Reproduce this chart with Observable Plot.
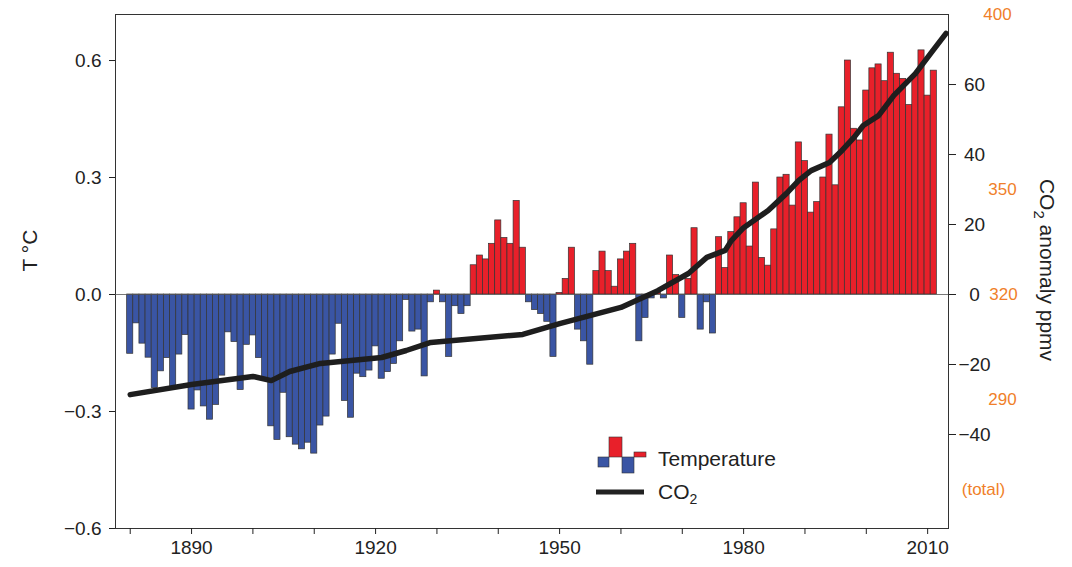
<!DOCTYPE html>
<html><head><meta charset="utf-8">
<script src="https://cdn.jsdelivr.net/npm/d3@7"></script>
<script src="https://cdn.jsdelivr.net/npm/@observablehq/plot@0.6"></script>
<style>
body{margin:0;background:#fff;font-family:"Liberation Sans",Arial,sans-serif;}
#wrap{position:relative;width:1072px;height:567px;}
#legend{position:absolute;left:596px;top:436px;color:#222;}
</style></head><body>
<div id="wrap"><div id="chart"></div>
<div id="legend">
<svg width="230" height="70" style="position:absolute;left:0;top:0">
<rect x="13" y="1" width="13" height="20" fill="#e8202a" stroke="#333" stroke-width="0.6"/>
<rect x="38" y="16" width="12" height="5" fill="#e8202a" stroke="#333" stroke-width="0.6"/>
<rect x="2" y="21" width="11" height="10" fill="#3a55a4" stroke="#333" stroke-width="0.6"/>
<rect x="26" y="21" width="12" height="16" fill="#3a55a4" stroke="#333" stroke-width="0.6"/>
<line x1="-2" y1="56" x2="48" y2="56" stroke="#222" stroke-width="5"/>
<text x="62" y="30" font-size="21" fill="#222">Temperature</text>
<text x="62" y="63" font-size="21" fill="#222">CO<tspan font-size="14" dy="5">2</tspan></text>
</svg></div></div>
<script>
const startYear = 1880;
const temps = [
-0.152,-0.074,-0.126,-0.162,-0.24,-0.197,-0.163,-0.237,-0.154,-0.104,
-0.295,-0.246,-0.287,-0.321,-0.283,-0.208,-0.097,-0.122,-0.245,-0.129,
-0.105,-0.163,-0.22,-0.338,-0.373,-0.252,-0.366,-0.385,-0.397,-0.38,
-0.408,-0.336,-0.313,-0.154,-0.075,-0.273,-0.316,-0.203,-0.212,-0.195,
-0.133,-0.216,-0.199,-0.178,-0.12,-0.014,-0.095,
-0.09,-0.21,-0.02,0.01,-0.02,-0.16,-0.03,-0.05,-0.03,0.075,0.10,0.09,0.13,0.19,0.145,0.13,0.24,0.12,
-0.02,-0.04,-0.05,-0.07,-0.16,0.004,0.04,0.12,-0.09,-0.12,-0.18,0.06,0.11,0.06,0.02,0.09,0.11,0.13,
-0.12,-0.06,-0.01,0.005,-0.01,0.10,0.05,-0.06,0.04,0.17,-0.09,-0.02,-0.10,
0.147,0.068,0.16,0.198,0.234,0.123,0.287,0.094,0.074,0.167,0.30,0.307,0.228,0.39,0.342,0.21,0.237,0.30,0.41,0.28,
0.48,0.60,0.425,0.395,0.523,0.58,0.59,0.547,0.62,0.566,0.553,0.486,0.56,0.626,0.51,0.574];
const co2Years = [1880,1890,1900,1903,1906,1911,1921,1925,1929,1944,1950,1960,1966,1971,1974,1977,1978,1980,1984,1987,1989,1991,1994,1996,1998,1999.5,2002,2004.5,2008,2010.5,2013];
const co2Ppm   = [291.4,294.3,296.6,295.4,298,300.3,302,304,306.3,308.6,311.7,316.3,321.1,326,330.6,332.6,335.4,339.1,344,348.9,352.6,355.4,357.7,361.1,364.9,368.3,371.1,376.9,383.1,388.9,394.6];
const leftTicks = [-0.6,-0.3,0,0.3,0.6];
const rightTicks = [-40,-20,0,20,40,60];
const totalLabels = ["400","350","320","290","(total)"];
const totalAnoms = [80,30,0,-30,-55.7];
const totalDx = [49,54,55,54,35];
const ratio = 111.43; // ppmv anomaly per °C on shared axis
const ref = 320;

const bars = temps.map((v,i)=>({year:startYear+i, v}));
const co2 = co2Years.map((y,i)=>({year:y, v:(co2Ppm[i]-ref)/ratio}));
const xMin = 1877.6, xMax = 2013.4;
const orange = "#f07f2a";
const chart = Plot.plot({
  width:1072, height:567,
  marginLeft:115, marginRight:124, marginTop:14, marginBottom:39,
  style:{fontFamily:"Liberation Sans, Arial, sans-serif", fontSize:"19px", color:"#222"},
  x:{domain:[xMin,xMax]},
  y:{domain:[-0.6,0.718]},
  marks:[
    Plot.frame({stroke:"#333"}),
    Plot.rectY(bars,{x1:d=>d.year-0.5,x2:d=>d.year+0.5,y1:0,y2:"v",fill:d=>d.v>=0?"#e8202a":"#3a55a4",stroke:"#333",strokeWidth:0.7,inset:0}),
    Plot.ruleY([0],{stroke:"#555",strokeWidth:0.8}),
    Plot.lineY(co2,{x:"year",y:"v",stroke:"#1e1e1e",strokeWidth:5.5,curve:"linear"}),
    Plot.axisY({anchor:"left",ticks:leftTicks,tickSize:6,tickPadding:8,tickFormat:d=>d.toFixed(1).replace("-","\u2212"),label:null,fontSize:19}),
    Plot.axisX({anchor:"bottom",ticks:d3.range(1880,2011,10),tickSize:6,tickFormat:d=>(d-1890)%30===0?String(d):"",label:null,fontSize:19,tickPadding:6}),
    Plot.axisY({anchor:"right",ticks:rightTicks.map(a=>a/ratio),tickSize:7,tickFormat:()=>"",label:null}),
    Plot.text(rightTicks,{x:xMax,y:a=>a/ratio,text:a=>String(a).replace("-","\u2212"),dx:26,textAnchor:"middle",fontSize:19,fill:"#222",clip:false}),
    ...totalLabels.map((t,i)=>Plot.text([t],{x:xMax,y:totalAnoms[i]/ratio,text:d=>d,dx:totalDx[i],textAnchor:"middle",fontSize:17,fill:orange})),
    Plot.text(["T \u00B0C"],{frameAnchor:"left",dx:-85,rotate:-90,fontSize:21,fill:"#222"})
  ]
});
document.getElementById("chart").appendChild(chart);
const svg = d3.select(chart);
svg.append("text").attr("transform","translate(1040,270) rotate(90)").attr("text-anchor","middle")
  .attr("font-size",21).attr("fill","#222")
  .html('CO<tspan font-size="15" dy="6">2</tspan><tspan dy="-6"> anomaly ppmv</tspan>');
</script></body></html>
